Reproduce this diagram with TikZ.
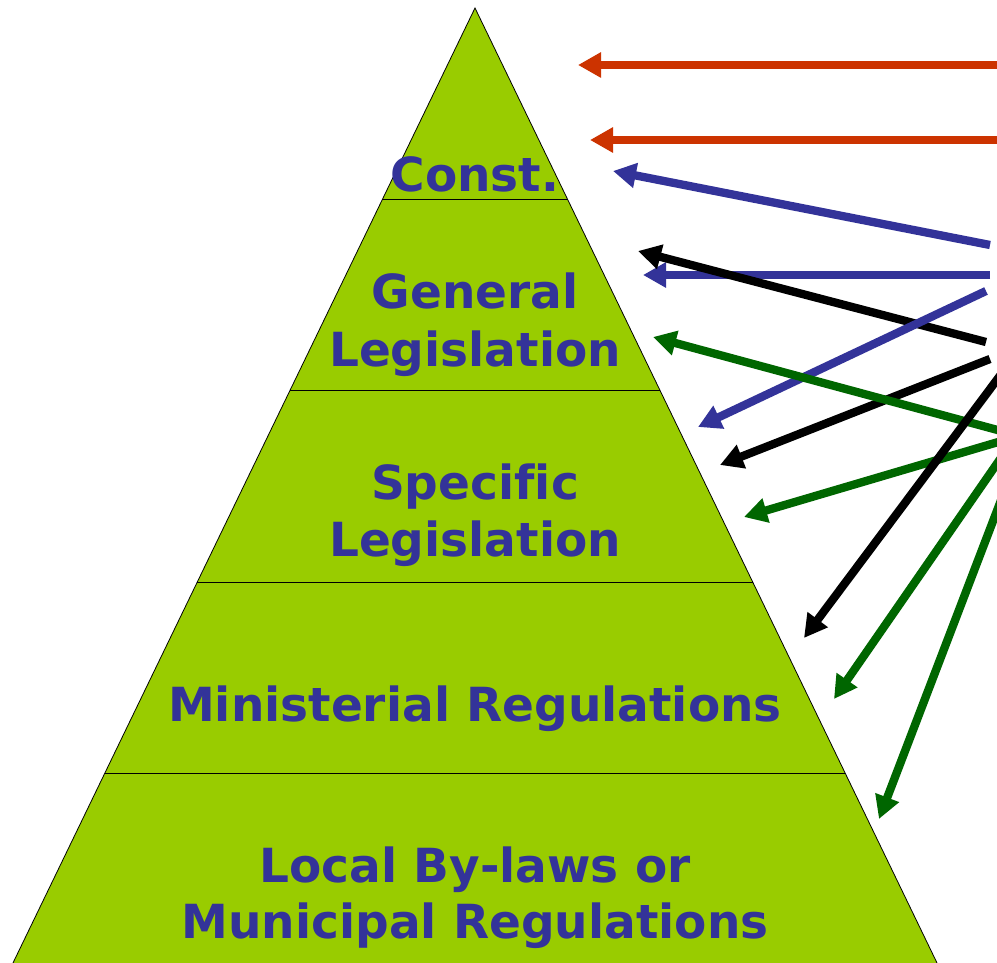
\documentclass[tikz,border=0pt]{standalone}
\usepackage{fontspec}
\setmainfont{DejaVu Sans}[Ligatures=CommonOff]
\usepackage{tikz}
\usetikzlibrary{arrows.meta,calc}

\definecolor{lawgreen}{HTML}{99CC00}
\definecolor{lawblue}{HTML}{333399}
\definecolor{lawred}{HTML}{CC3300}
\definecolor{lawdkgreen}{HTML}{006600}

\begin{document}
\begin{tikzpicture}[x=1pt,y=-1pt,
    tier/.style={text=lawblue,font=\fontsize{47}{56}\selectfont\bfseries,anchor=base,inner sep=0pt},
    ref/.style={line width=8.3pt,-{Triangle[length=23pt,width=24pt]}}]
  \useasboundingbox (0,0) rectangle (997,963);
  \clip (0,0) rectangle (997,963);

  % pyramid
  \coordinate (apex) at (475,8);
  \coordinate (bl) at (12,965);
  \coordinate (br) at (938,965);
  \fill[lawgreen,draw=black,line width=0.8pt] (apex) -- (bl) -- (br) -- cycle;
  \foreach \t in {0.2,0.4,0.6,0.8}
    \draw[line width=1pt] ($(apex)!\t!(bl)$) -- ($(apex)!\t!(br)$);

  \node[tier] (const) at (475,192) {Const.};
  \node[tier] (gen1)  at (475,308) {General};
  \node[tier] (gen2)  at (475,366) {Legislation};
  \node[tier] (spec1) at (475,499) {Specific};
  \node[tier] (spec2) at (475,556) {Legislation};
  \node[tier] (min)   at (475,721) {Ministerial Regulations};
  \node[tier] (loc1)  at (475,882) {Local By-laws or};
  \node[tier] (loc2)  at (475,938) {Municipal Regulations};

  % arrow ends
  \coordinate (r1s) at (1000,65);   \coordinate (r1t) at (578,65);
  \coordinate (r2s) at (1000,140);  \coordinate (r2t) at (590,140);
  \coordinate (b1s) at (990,245);   \coordinate (b1t) at (613,171);
  \coordinate (b2s) at (990,275);   \coordinate (b2t) at (643,275);
  \coordinate (k1s) at (986,342);   \coordinate (k1t) at (638,251);
  \coordinate (b3s) at (986,291);   \coordinate (b3t) at (698,427);
  \coordinate (k2s) at (990,359);   \coordinate (k2t) at (720,465);
  \coordinate (g1s) at (1005,432);  \coordinate (g1t) at (653,337);
  \coordinate (g2s) at (1005,440);  \coordinate (g2t) at (744,517);
  \coordinate (k3s) at (1005,369);  \coordinate (k3t) at (804,638);
  \coordinate (g3s) at (1005,452);  \coordinate (g3t) at (834,699);
  \coordinate (g4s) at (1003,495);  \coordinate (g4t) at (879,819);

  \path[ref,lawred]
      (r1s) edge (r1t)
      (r2s) edge (r2t);
  \path[ref,lawblue]
      (b1s) edge (b1t)
      (b2s) edge (b2t);
  \draw[ref,black] (k1s) -- (k1t);
  \draw[ref,lawblue] (b3s) -- (b3t);
  \draw[ref,black] (k2s) -- (k2t);
  \path[ref,lawdkgreen]
      (g1s) edge (g1t)
      (g2s) edge (g2t);
  \draw[ref,black] (k3s) -- (k3t);
  \path[ref,lawdkgreen]
      (g3s) edge (g3t)
      (g4s) edge (g4t);
\end{tikzpicture}
\end{document}
